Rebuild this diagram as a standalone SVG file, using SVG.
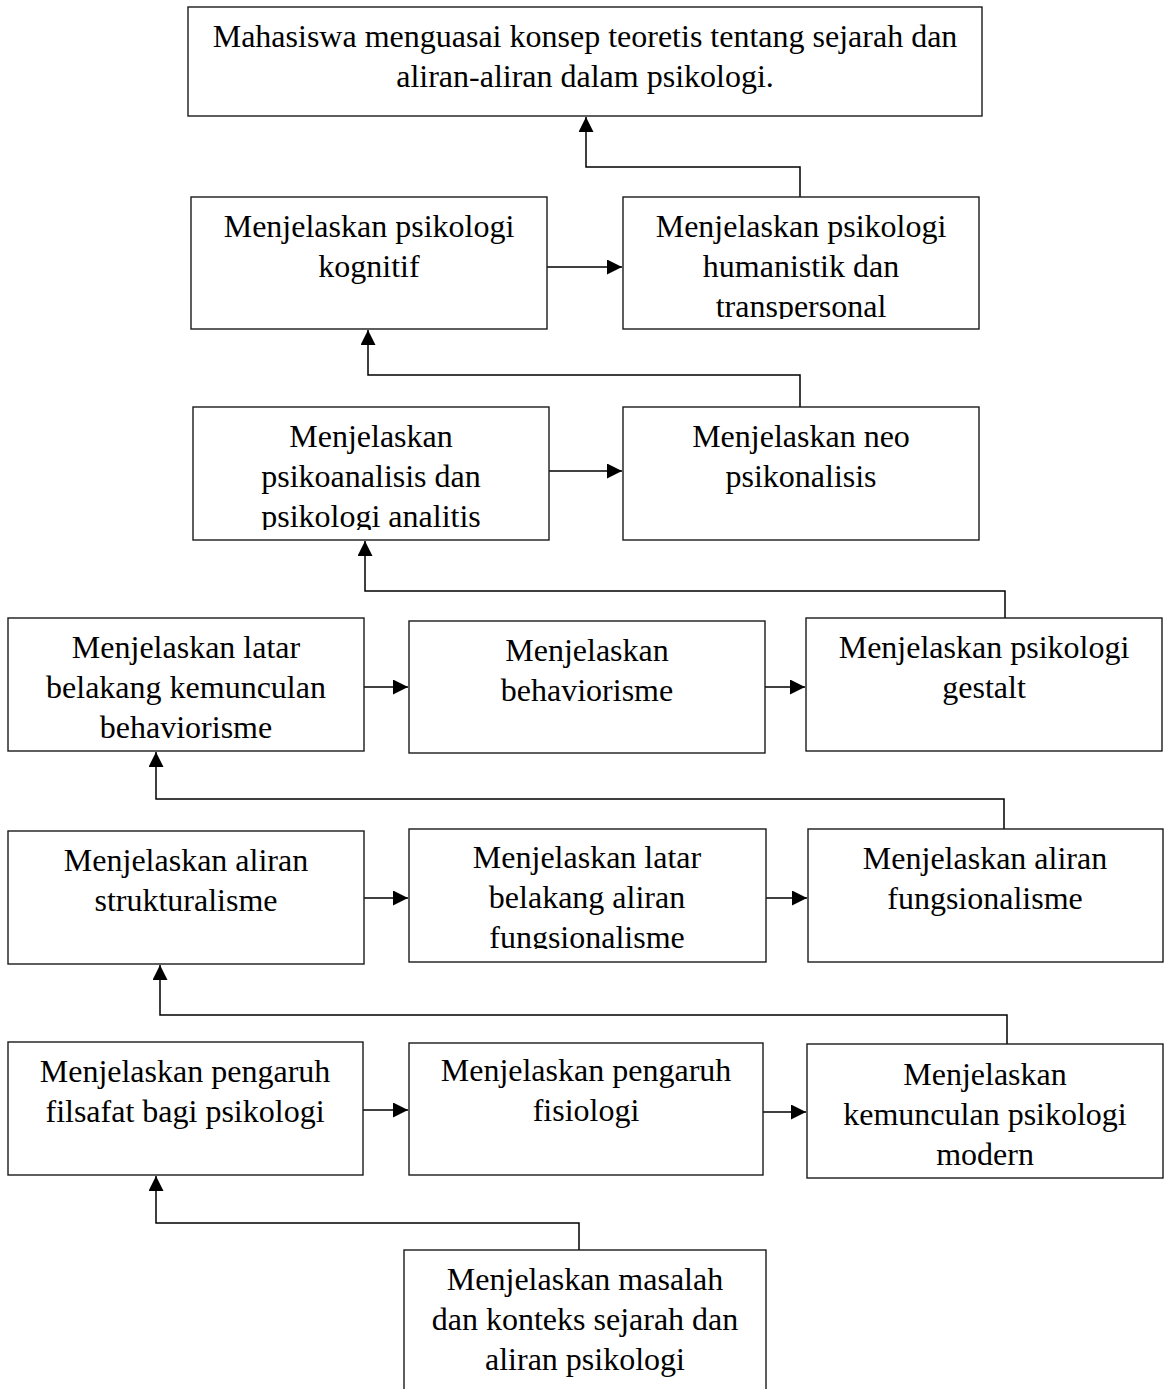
<svg xmlns="http://www.w3.org/2000/svg" width="1170" height="1389" viewBox="0 0 1170 1389">
<style>
.box{fill:#fff;stroke:#1a1a1a;stroke-width:1.4}
.t{font-family:"Liberation Serif","Times New Roman",serif;font-size:32px;fill:#000;text-anchor:middle}
.c{fill:none;stroke:#000;stroke-width:1.5;marker-end:url(#ah)}
</style>
<defs>
<marker id="ah" markerUnits="userSpaceOnUse" markerWidth="16" markerHeight="15" refX="15" refY="7.5" orient="auto">
<path d="M0,0 L15,7.5 L0,15 z" fill="#000"/>
</marker>
<clipPath id="cpHum"><rect x="623" y="197" width="356" height="122"/></clipPath>
<clipPath id="cpPsi"><rect x="193" y="407" width="356" height="123"/></clipPath>
<clipPath id="cpFun"><rect x="409" y="829" width="357" height="120"/></clipPath>
</defs>
<rect width="1170" height="1389" fill="#fff"/>

<g id="connectors">
<path class="c" d="M800,197 V167 H586 V117"/>
<path class="c" d="M547,267 H622"/>
<path class="c" d="M800,407 V375 H368 V330"/>
<path class="c" d="M549,471 H622"/>
<path class="c" d="M1005,618 V591 H365 V541"/>
<path class="c" d="M364,687 H408"/>
<path class="c" d="M765,687 H805"/>
<path class="c" d="M1004,829 V799 H156 V752"/>
<path class="c" d="M364,898 H408"/>
<path class="c" d="M766,898 H807"/>
<path class="c" d="M1007,1044 V1015 H160 V965"/>
<path class="c" d="M363,1110 H408"/>
<path class="c" d="M763,1112 H806"/>
<path class="c" d="M579,1250 V1223 H156 V1176"/>
</g>

<g id="n-tujuan">
<rect class="box" x="188" y="7" width="794" height="109"/>
<text class="t" x="585" y="47">Mahasiswa menguasai konsep teoretis tentang sejarah dan</text>
<text class="t" x="585" y="87">aliran-aliran dalam psikologi.</text>
</g>

<g id="n-kognitif">
<rect class="box" x="191" y="197" width="356" height="132"/>
<text class="t" x="369" y="237">Menjelaskan psikologi</text>
<text class="t" x="369" y="277">kognitif</text>
</g>

<g id="n-humanistik">
<rect class="box" x="623" y="197" width="356" height="132"/>
<g clip-path="url(#cpHum)">
<text class="t" x="801" y="237">Menjelaskan psikologi</text>
<text class="t" x="801" y="277">humanistik dan</text>
<text class="t" x="801" y="317">transpersonal</text>
</g>
</g>

<g id="n-psikoanalisis">
<rect class="box" x="193" y="407" width="356" height="133"/>
<g clip-path="url(#cpPsi)">
<text class="t" x="371" y="447">Menjelaskan</text>
<text class="t" x="371" y="487">psikoanalisis dan</text>
<text class="t" x="371" y="527">psikologi analitis</text>
</g>
</g>

<g id="n-neo">
<rect class="box" x="623" y="407" width="356" height="133"/>
<text class="t" x="801" y="447">Menjelaskan neo</text>
<text class="t" x="801" y="487">psikonalisis</text>
</g>

<g id="n-latar-behaviorisme">
<rect class="box" x="8" y="618" width="356" height="133"/>
<text class="t" x="186" y="658">Menjelaskan latar</text>
<text class="t" x="186" y="698">belakang kemunculan</text>
<text class="t" x="186" y="738">behaviorisme</text>
</g>

<g id="n-behaviorisme">
<rect class="box" x="409" y="621" width="356" height="132"/>
<text class="t" x="587" y="661">Menjelaskan</text>
<text class="t" x="587" y="701">behaviorisme</text>
</g>

<g id="n-gestalt">
<rect class="box" x="806" y="618" width="356" height="133"/>
<text class="t" x="984" y="658">Menjelaskan psikologi</text>
<text class="t" x="984" y="698">gestalt</text>
</g>

<g id="n-strukturalisme">
<rect class="box" x="8" y="831" width="356" height="133"/>
<text class="t" x="186" y="871">Menjelaskan aliran</text>
<text class="t" x="186" y="911">strukturalisme</text>
</g>

<g id="n-latar-fungsionalisme">
<rect class="box" x="409" y="829" width="357" height="133"/>
<g clip-path="url(#cpFun)">
<text class="t" x="587" y="868">Menjelaskan latar</text>
<text class="t" x="587" y="908">belakang aliran</text>
<text class="t" x="587" y="948">fungsionalisme</text>
</g>
</g>

<g id="n-fungsionalisme">
<rect class="box" x="808" y="829" width="355" height="133"/>
<text class="t" x="985" y="869">Menjelaskan aliran</text>
<text class="t" x="985" y="909">fungsionalisme</text>
</g>

<g id="n-filsafat">
<rect class="box" x="8" y="1042" width="355" height="133"/>
<text class="t" x="185" y="1082">Menjelaskan pengaruh</text>
<text class="t" x="185" y="1122">filsafat bagi psikologi</text>
</g>

<g id="n-fisiologi">
<rect class="box" x="409" y="1043" width="354" height="132"/>
<text class="t" x="586" y="1081">Menjelaskan pengaruh</text>
<text class="t" x="586" y="1121">fisiologi</text>
</g>

<g id="n-modern">
<rect class="box" x="807" y="1044" width="356" height="134"/>
<text class="t" x="985" y="1085">Menjelaskan</text>
<text class="t" x="985" y="1125">kemunculan psikologi</text>
<text class="t" x="985" y="1165">modern</text>
</g>

<g id="n-masalah">
<rect class="box" x="404" y="1250" width="362" height="160"/>
<text class="t" x="585" y="1290">Menjelaskan masalah</text>
<text class="t" x="585" y="1330">dan konteks sejarah dan</text>
<text class="t" x="585" y="1370">aliran psikologi</text>
</g>
</svg>
